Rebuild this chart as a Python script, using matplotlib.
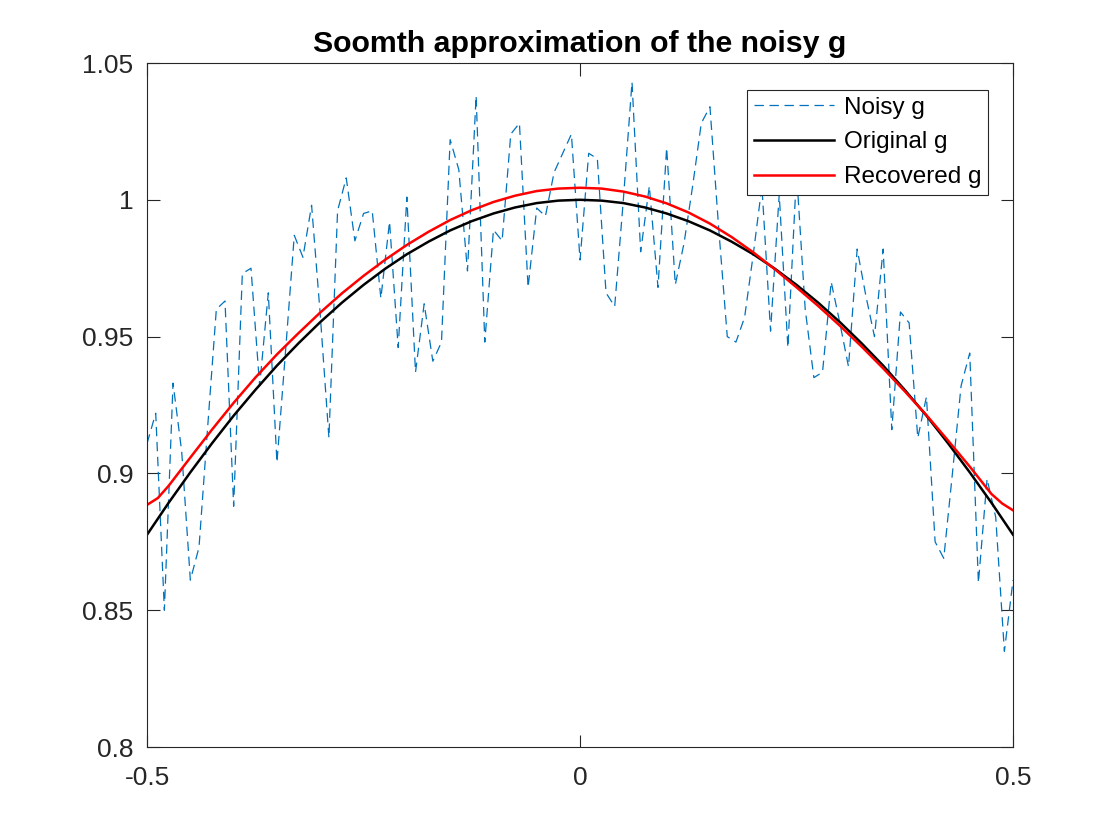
import numpy as np
import matplotlib
matplotlib.use("Agg")
import matplotlib.pyplot as plt

plt.rcParams['font.family'] = ['Liberation Sans', 'DejaVu Sans']

# Noisy samples at x = -0.5 ... 0.5 step 0.01 (101 points)
noisy_x_start, noisy_x_stop, noisy_n = -0.5, 0.5, 101
noisy_y = [
    0.911, 0.922, 0.850, 0.933, 0.908, 0.861, 0.873, 0.917, 0.960, 0.963,
    0.888, 0.973, 0.975, 0.932, 0.966, 0.904, 0.945, 0.987, 0.979, 0.998,
    0.958, 0.913, 0.996, 1.008, 0.985, 0.995, 0.996, 0.964, 0.992, 0.946,
    1.001, 0.937, 0.962, 0.941, 0.948, 1.022, 1.011, 0.974, 1.038, 0.948,
    0.989, 0.985, 1.024, 1.028, 0.968, 0.997, 0.994, 1.010, 1.017, 1.024,
    0.978, 1.017, 1.015, 0.966, 0.961, 1.000, 1.043, 0.981, 1.005, 0.968,
    1.019, 0.969, 0.984, 1.005, 1.028, 1.034, 0.990, 0.950, 0.948, 0.957,
    0.980, 1.005, 0.952, 1.002, 0.946, 1.010, 0.960, 0.935, 0.937, 0.970,
    0.955, 0.939, 0.982, 0.965, 0.950, 0.982, 0.916, 0.959, 0.955, 0.913,
    0.928, 0.875, 0.869, 0.900, 0.932, 0.944, 0.860, 0.898, 0.884, 0.835,
    0.861,
]

# Original g, read at x = -0.5 ... 0.5 step 0.025
orig_x = [-0.5, -0.475, -0.45, -0.425, -0.4, -0.375, -0.35, -0.325, -0.3, -0.275,
          -0.25, -0.225, -0.2, -0.175, -0.15, -0.125, -0.1, -0.075, -0.05, -0.025,
          0.0, 0.025, 0.05, 0.075, 0.1, 0.125, 0.15, 0.175, 0.2, 0.225,
          0.25, 0.275, 0.3, 0.325, 0.35, 0.375, 0.4, 0.425, 0.45, 0.475, 0.5]
orig_y = [0.8776, 0.8893, 0.9004, 0.9110, 0.9211, 0.9305, 0.9394, 0.9476, 0.9553, 0.9624,
          0.9689, 0.9748, 0.9801, 0.9847, 0.9888, 0.9922, 0.9950, 0.9972, 0.9988, 0.9997,
          1.0000, 0.9997, 0.9988, 0.9972, 0.9950, 0.9922, 0.9888, 0.9847, 0.9801, 0.9748,
          0.9689, 0.9624, 0.9553, 0.9476, 0.9394, 0.9305, 0.9211, 0.9110, 0.9004, 0.8893, 0.8776]

# Recovered g
rec_x = [-0.5, -0.4875, -0.475, -0.45, -0.425, -0.4, -0.375, -0.35, -0.325, -0.3, -0.275,
         -0.25, -0.225, -0.2, -0.175, -0.15, -0.125, -0.1, -0.075, -0.05, -0.025,
         0.0, 0.025, 0.05, 0.075, 0.1, 0.125, 0.15, 0.175, 0.2, 0.225,
         0.25, 0.275, 0.3, 0.325, 0.35, 0.375, 0.4, 0.425, 0.45, 0.475, 0.4875, 0.5]
rec_y = [0.8885, 0.8910, 0.8955, 0.9058, 0.9160, 0.9258, 0.9350, 0.9435, 0.9513, 0.9588, 0.9658,
         0.9722, 0.9781, 0.9835, 0.9883, 0.9926, 0.9962, 0.9992, 1.0015, 1.0032, 1.0041,
         1.0044, 1.0041, 1.0030, 1.0012, 0.9987, 0.9954, 0.9913, 0.9864, 0.9808, 0.9746,
         0.9680, 0.9612, 0.9540, 0.9464, 0.9384, 0.9300, 0.9213, 0.9120, 0.9025, 0.8925, 0.8890, 0.8865]

x_ticks = [-0.5, 0, 0.5]
x_ticklabels = ['-0.5', '0', '0.5']
y_ticks = [0.8, 0.85, 0.9, 0.95, 1.0, 1.05]
y_ticklabels = ['0.8', '0.85', '0.9', '0.95', '1', '1.05']

noisy_x = np.linspace(noisy_x_start, noisy_x_stop, noisy_n)

fig = plt.figure(figsize=(11.2, 8.4), dpi=100)
ax = fig.add_axes([0.1313, 0.1107, 0.7732, 0.8143])

axc = '#262626'
ax.plot(noisy_x, noisy_y, '--', color='#0072BD', lw=0.9, dashes=(7.5, 4.5), label='Noisy g')
ax.plot(orig_x, orig_y, '-', color='black', lw=1.8, label='Original g')
ax.plot(rec_x, rec_y, '-', color='#FF0000', lw=1.8, label='Recovered g')

ax.set_xlim(-0.5, 0.5)
ax.set_ylim(0.8, 1.05)
ax.set_xticks(x_ticks)
ax.set_xticklabels(x_ticklabels)
ax.set_yticks(y_ticks)
ax.set_yticklabels(y_ticklabels)
ax.tick_params(direction='in', length=9, width=0.8, colors=axc, labelsize=19,
               top=True, right=True)
ax.tick_params(axis='y', pad=10)
ax.tick_params(axis='x', pad=14)
for s in ax.spines.values():
    s.set_color(axc)
    s.set_linewidth(0.8)

ax.set_title('Soomth approximation of the noisy g', fontsize=21.8, fontweight='bold',
             color='black', pad=8)

leg = ax.legend(loc='upper right', bbox_to_anchor=(0.971, 0.9605), borderaxespad=0,
                fancybox=False, framealpha=1, edgecolor=axc, fontsize=17.5,
                handlelength=3.3, handletextpad=0.4, borderpad=0.28, labelspacing=0.52)
leg.get_frame().set_linewidth(0.8)

fig.savefig('out.png', dpi=100, facecolor='white')
